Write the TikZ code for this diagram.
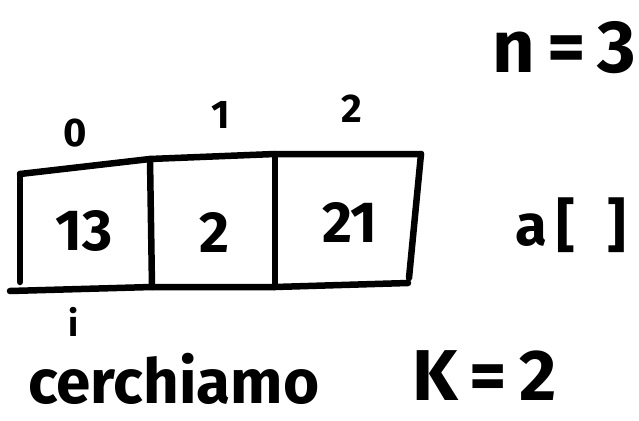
\documentclass[tikz,border=0pt]{standalone}
\usepackage{fontspec}
\setmainfont{Fira Sans}
\tikzset{
  pen/.style={line width=6.5pt, line cap=round, line join=round, black},
  hand/.style={font=\bfseries\fontsize{58}{58}\selectfont, inner sep=0pt, anchor=base},
  idx/.style={font=\bfseries\fontsize{40}{40}\selectfont, inner sep=0pt, anchor=base},
  big/.style={font=\bfseries\fontsize{66}{66}\selectfont, inner sep=0pt, anchor=base west}
}
\begin{document}
\begin{tikzpicture}[x=1pt,y=-1pt]
\useasboundingbox (0,0) rectangle (639,420);
% corners of the array
\coordinate (tl) at (20,174);
\coordinate (t1) at (150,159);
\coordinate (t2) at (275,154);
\coordinate (tr) at (421,154);
\coordinate (bl) at (10,291);
\coordinate (b1) at (152,287);
\coordinate (b2) at (275,287);
\coordinate (br) at (408,283);
\coordinate (ll) at (20,282);
\coordinate (rr) at (409,278);
% outline
\draw[pen] (tl) -- (t1) -- (t2) -- (tr);
\draw[pen] (bl) -- (b1) -- (b2) -- (br);
\draw[pen] (tl) -- (ll);
\draw[pen] (tr) -- (rr);
\draw[pen] (t1) -- (b1);
\draw[pen] (t2) -- (b2);
% values
\node[hand] (v0) at (84,250) {13};
\node[hand] (v1) at (214,252) {2};
\node[hand] (v2) at (350,242) {21};
% indices
\node[idx] (i0) at (75,146) {0};
\node[idx] (i1) at (221,128) {1};
\node[idx] (i2) at (352,122) {2};
% labels
\node[hand, anchor=base west] (arr) at (515,245) {a\,[\;\;]};
\node[big, font=\bfseries\fontsize{74}{74}\selectfont] (n) at (492,72) {n\,=\,3};
\node[idx, font=\bfseries\fontsize{36}{36}\selectfont] (ii) at (74,336) {i};
\node[big, font=\bfseries\fontsize{62}{62}\selectfont] (search) at (28,403) {cerchiamo};
\node[big, font=\bfseries\fontsize{72}{72}\selectfont] (k) at (412,400) {K\hspace{12pt}=\hspace{12pt}2};
\end{tikzpicture}
\end{document}
